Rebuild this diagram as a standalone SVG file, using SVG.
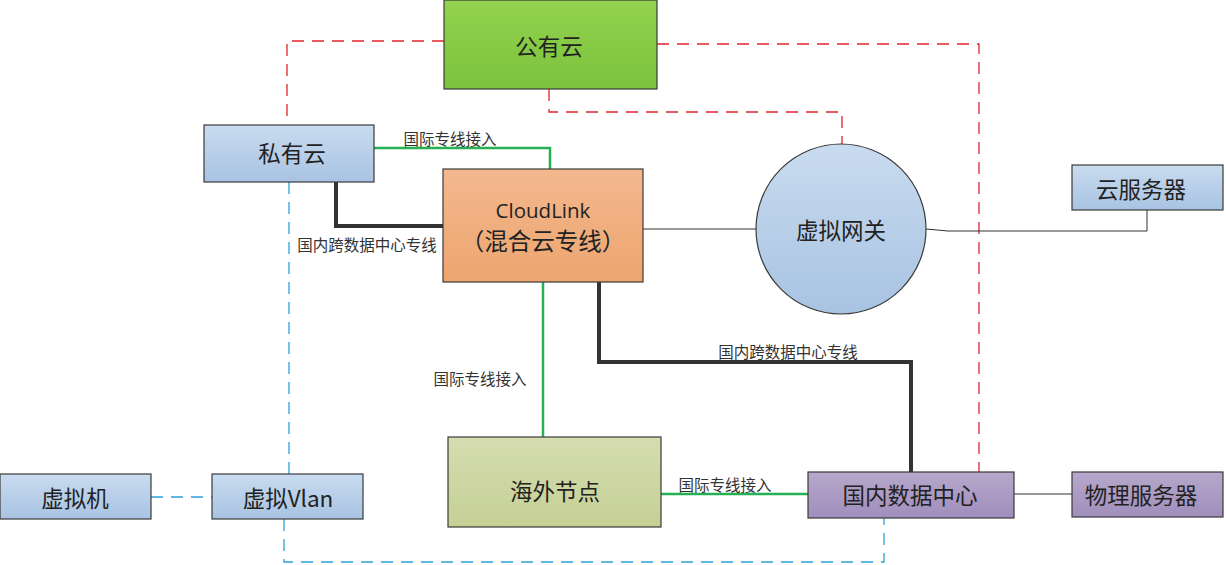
<svg xmlns="http://www.w3.org/2000/svg" width="1226" height="565" viewBox="0 0 1226 565">
<defs>
<linearGradient id="gBlue" x1="0" y1="0" x2="0" y2="1"><stop offset="0" stop-color="#c9dbef"/><stop offset="1" stop-color="#a8c3e2"/></linearGradient>
<linearGradient id="gGreen" x1="0" y1="0" x2="0" y2="1"><stop offset="0" stop-color="#92d24e"/><stop offset="1" stop-color="#7cc23c"/></linearGradient>
<linearGradient id="gOrange" x1="0" y1="0" x2="0" y2="1"><stop offset="0" stop-color="#f4b88e"/><stop offset="1" stop-color="#eca56f"/></linearGradient>
<linearGradient id="gOlive" x1="0" y1="0" x2="0" y2="1"><stop offset="0" stop-color="#d5ddb0"/><stop offset="1" stop-color="#c5d095"/></linearGradient>
<linearGradient id="gPurple" x1="0" y1="0" x2="0" y2="1"><stop offset="0" stop-color="#b6a8cb"/><stop offset="1" stop-color="#a08ebc"/></linearGradient>
</defs>
<style>
.box{stroke:#3a3a3a;stroke-width:1.2}
.t{font-family:"Noto Sans CJK SC","Liberation Sans",sans-serif;font-size:22.5px;fill:#222;text-anchor:middle;dominant-baseline:central}
.lab{font-family:"Noto Sans CJK SC","Liberation Sans",sans-serif;font-size:15.5px;fill:#333;text-anchor:middle;dominant-baseline:central}
.red{fill:none;stroke:#e0242c;stroke-width:1.3;stroke-dasharray:12 8}
.blue{fill:none;stroke:#2ba3d9;stroke-width:1.3;stroke-dasharray:12 8}
.grn{fill:none;stroke:#25b153;stroke-width:2.5}
.blk{fill:none;stroke:#333;stroke-width:4}
.thin{fill:none;stroke:#333;stroke-width:1}
</style>
<g id="connectors">
<polyline class="red" points="444,41 287,41 287,124"/>
<polyline class="red" points="549,89 549,112 842,112 842,144"/>
<polyline class="red" points="657,44 979,44 979,472"/>
<polyline class="blue" points="289,182 289,474"/>
<polyline class="blue" points="151,497 212,497"/>
<polyline class="blue" points="284,519 284,562 884,562 884,518"/>
<polyline class="grn" points="374,148 550,148 550,169"/>
<polyline class="grn" points="543,282 543,437"/>
<polyline class="grn" points="661,494 808,494"/>
<polyline class="blk" points="336,182 336,226 443,226"/>
<polyline class="blk" points="599,282 599,362 911,362 911,472"/>
<polyline class="thin" points="643,229 756,229"/>
<polyline class="thin" points="926,229 948,231 1147,231 1147,210"/>
<polyline class="thin" points="1014,494 1072,494"/>
<text class="lab" x="450" y="138">国际专线接入</text>
<text class="lab" x="367" y="244">国内跨数据中心专线</text>
<text class="lab" x="480" y="378">国际专线接入</text>
<text class="lab" x="788" y="351">国内跨数据中心专线</text>
<text class="lab" x="725" y="484">国际专线接入</text>
</g>
<g id="public-cloud"><rect class="box" x="444" y="0" width="213" height="89" fill="url(#gGreen)"/><text class="t" x="549" y="45">公有云</text></g>
<g id="private-cloud"><rect class="box" x="204" y="125" width="170" height="57" fill="url(#gBlue)"/><text class="t" x="292" y="152">私有云</text></g>
<g id="cloudlink"><rect class="box" x="443" y="169" width="200" height="113" fill="url(#gOrange)"/><text x="543" y="210" style="font-family:'Open Sans','Liberation Sans',sans-serif;font-size:20.5px;fill:#222;text-anchor:middle;dominant-baseline:central">CloudLink</text><text class="t" x="543" y="240" style="font-size:23.5px">（混合云专线）</text></g>
<g id="virtual-gateway"><circle class="box" cx="841" cy="229" r="85" fill="url(#gBlue)"/><text class="t" x="841" y="229">虚拟网关</text></g>
<g id="cloud-server"><rect class="box" x="1072" y="165" width="151" height="45" fill="url(#gBlue)"/><text class="t" x="1141" y="188">云服务器</text></g>
<g id="vm"><rect class="box" x="0" y="474" width="151" height="45" fill="url(#gBlue)"/><text class="t" x="75" y="497">虚拟机</text></g>
<g id="vlan"><rect class="box" x="212" y="474" width="151" height="45" fill="url(#gBlue)"/><text class="t" x="288" y="497">虚拟Vlan</text></g>
<g id="overseas-node"><rect class="box" x="448" y="437" width="213" height="90" fill="url(#gOlive)"/><text class="t" x="555" y="490">海外节点</text></g>
<g id="domestic-dc"><rect class="box" x="808" y="472" width="206" height="46" fill="url(#gPurple)"/><text class="t" x="910" y="494">国内数据中心</text></g>
<g id="physical-server"><rect class="box" x="1072" y="472" width="151" height="45" fill="url(#gPurple)"/><text class="t" x="1141" y="494">物理服务器</text></g>
</svg>
